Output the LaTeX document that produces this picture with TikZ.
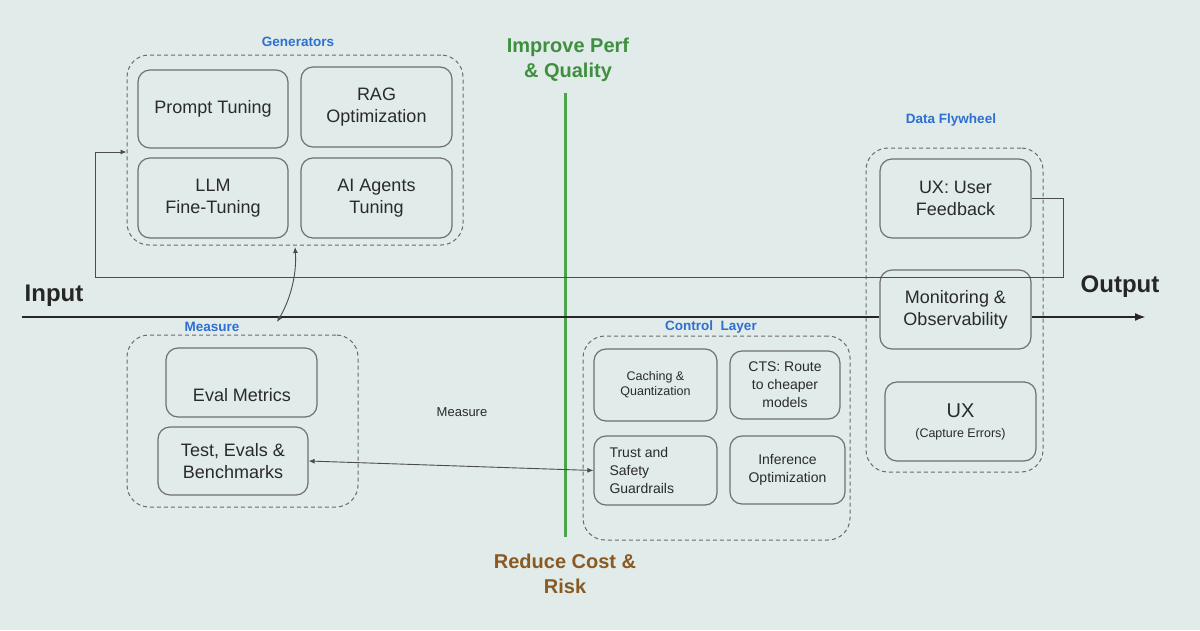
\documentclass[tikz,border=0pt]{standalone}
\usepackage{fontspec}
\setmainfont{Liberation Sans}
\usetikzlibrary{arrows.meta}
\definecolor{bg}{HTML}{E0EBEA}
\definecolor{boxline}{HTML}{707070}
\definecolor{dashline}{HTML}{6A6A6A}
\definecolor{lbl}{HTML}{2E6FD0}
\definecolor{grn}{HTML}{4AA54A}
\definecolor{grntxt}{HTML}{3F8F3F}
\definecolor{brn}{HTML}{8A5A22}
\definecolor{txt}{HTML}{2A2A2A}
\tikzset{
  box/.style={draw=boxline, line width=1.2pt, rounded corners=12pt, inner sep=0pt, align=center, text=txt, font=\fontsize{18}{22}\selectfont},
  smallbox/.style={box, font=\fontsize{14}{18}\selectfont},
  group/.style={draw=dashline, line width=1pt, dash pattern=on 4pt off 3pt, rounded corners=22pt, inner sep=0pt},
  grouplabel/.style={text=lbl, font=\bfseries\fontsize{13.5}{16}\selectfont},
  conn/.style={draw=black!70, line width=0.9pt},
  tip/.style={-{Latex[length=6pt,width=5pt]}},
}
\begin{document}
\begin{tikzpicture}[x=1pt,y=-1pt]
\fill[bg] (0,0) rectangle (1200,630);
\useasboundingbox (0,0) rectangle (1200,630);

% group containers
\node[group, minimum width=336pt, minimum height=190pt] (gen) at (295,150) {};
\node[group, minimum width=231pt, minimum height=172pt] (meas) at (242.5,421) {};
\node[group, minimum width=267pt, minimum height=204pt] (ctrl) at (716.5,438) {};
\node[group, minimum width=177pt, minimum height=324pt] (fly) at (954.5,310) {};

% group labels
\node[grouplabel] (genl) at (298,42) {Generators};
\node[grouplabel] (measl) at (212,327) {Measure};
\node[grouplabel] (ctrll) at (711,327) {Control\ \ Layer};
\node[grouplabel] (flyl) at (951,120) {Data Flywheel};

% generators
\node[box, minimum width=150pt, minimum height=78pt] (pt) at (213,109) {Prompt Tuning};
\node[box, minimum width=151pt, minimum height=80pt] (rag) at (376.5,107) {RAG\\Optimization};
\node[box, minimum width=150pt, minimum height=80pt] (llm) at (213,198) {LLM\\Fine-Tuning};
\node[box, minimum width=151pt, minimum height=80pt] (agt) at (376.5,198) {AI Agents\\Tuning};

% measure
\node[box, minimum width=151pt, minimum height=69pt] (eval) at (241.5,382.5) {};
\node[text=txt, font=\fontsize{18}{22}\selectfont] (evalt) at (242,395) {Eval Metrics};
\node[box, minimum width=150pt, minimum height=68pt] (test) at (233,461) {Test, Evals \&\\Benchmarks};

% control layer
\node[smallbox, minimum width=123pt, minimum height=72pt, font=\fontsize{12.5}{15}\selectfont] (cache) at (655.5,385) {Caching \&\\Quantization};
\node[smallbox, minimum width=110pt, minimum height=68pt] (cts) at (785,385) {CTS: Route\\to cheaper\\models};
\node[smallbox, minimum width=123pt, minimum height=69pt] (trust) at (655.5,470.5) {};
\node[text=txt, font=\fontsize{14}{18}\selectfont, align=left, anchor=west] (trustt) at (606,470.5) {Trust and\\Safety\\Guardrails};
\node[smallbox, minimum width=115pt, minimum height=68pt] (inf) at (787.5,470) {Inference\\Optimization};

% data flywheel
\node[box, minimum width=151pt, minimum height=79pt] (uxf) at (955.5,198.5) {UX: User\\Feedback};
\node[box, minimum width=151pt, minimum height=79pt, fill=bg] (mon) at (955.5,309.5) {Monitoring \&\\Observability};
\node[box, minimum width=151pt, minimum height=79pt] (uxe) at (960.5,421.5) {{\fontsize{20}{24}\selectfont UX}\\[-2pt]{\fontsize{12.5}{15}\selectfont (Capture Errors)}};

% green divider
\coordinate (gtop) at (565,93);
\coordinate (gbot) at (565,537);
\draw[grn, line width=3pt] (gtop) -- (gbot);
\node[text=grntxt, font=\bfseries\fontsize{20}{25}\selectfont, align=center] (imp) at (568,60) {Improve Perf\\\& Quality};
\node[text=brn, font=\bfseries\fontsize{20}{25}\selectfont, align=center] (red) at (565,574) {Reduce Cost \&\\Risk};

% middle measure text
\node[text=txt, font=\fontsize{13}{16}\selectfont] (mtxt) at (462,412) {Measure};

% main input/output line
\node[text=black!85, font=\bfseries\fontsize{24}{28}\selectfont] (inp) at (54,296) {Input};
\node[text=black!85, font=\bfseries\fontsize{24}{28}\selectfont] (outp) at (1120,287) {Output};
\coordinate (inS) at (22,317);
\coordinate (outE) at (1146,317);
\draw[black!85, line width=2.2pt] (inS) -- (inS -| mon.west);
\draw[black!85, line width=2.2pt, -{Latex[length=11pt,width=8pt]}] (mon.east |- outE) -- (outE);

% feedback loop
\coordinate (fr) at (1063,198.5);
\coordinate (frb) at (1063,277);
\coordinate (fl) at (95,277);
\coordinate (flt) at (95,152);
\draw[conn, tip] (uxf.east) -- (fr) -- (frb) -- (fl) -- (flt) -- (gen.west |- flt);

% measure <-> generators curve
\coordinate (mc) at (277,322);
\coordinate (gc) at (295,247);
\draw[conn, {Latex[length=6pt,width=5pt]}-{Latex[length=6pt,width=5pt]}] (mc) .. controls (290,300) and (297,275) .. (gc);

% test <-> trust
\draw[conn, {Latex[length=6pt,width=5pt]}-{Latex[length=6pt,width=5pt]}] (test.east) -- (trust.west);
\end{tikzpicture}
\end{document}
